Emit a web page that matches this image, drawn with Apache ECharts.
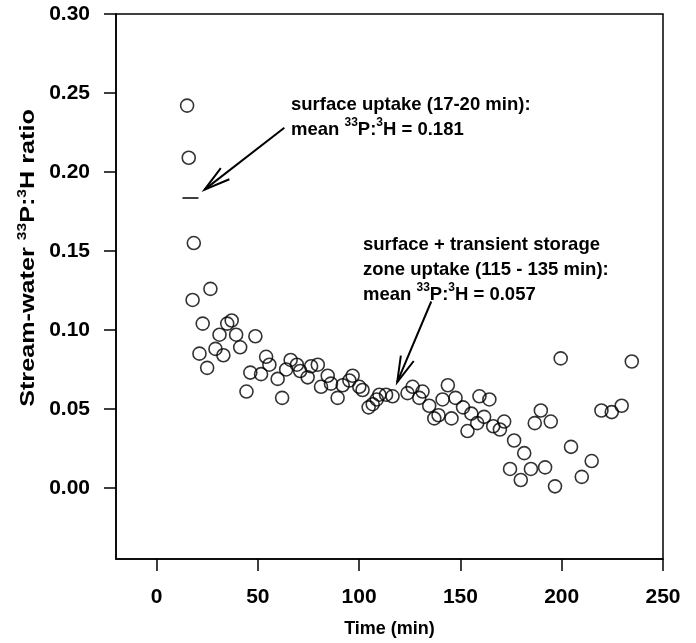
<!DOCTYPE html>
<html>
<head>
<meta charset="utf-8">
<script src="https://cdn.jsdelivr.net/npm/echarts@6/dist/echarts.min.js"></script>
<style>
  html, body { margin: 0; padding: 0; background: #fff; }
  #chart { width: 696px; height: 643px; }
</style>
</head>
<body>
<div id="chart"></div>
<script>
// sampling time (min)
const times = [
  15.1, 15.9, 17.8, 18.4, 21.2, 22.8, 25.0, 26.6, 29.1, 31.1,
  33.0, 34.9, 37.1, 39.3, 41.3, 44.4, 46.3, 48.8, 51.6, 54.1,
  55.7, 59.8, 62.0, 64.0, 66.2, 69.3, 70.9, 74.6, 76.3, 79.6,
  81.2, 84.5, 86.1, 89.4, 91.9, 95.2, 96.8, 100.1, 101.7, 104.7,
  106.7, 108.7, 110.0, 113.3, 116.5, 123.9, 126.4, 129.7, 131.3, 134.6,
  137.1, 139.2, 141.2, 143.8, 145.6, 147.6, 151.3, 153.5, 155.4, 158.3,
  159.4, 161.7, 164.3, 166.2, 169.5, 171.6, 174.5, 176.5, 179.8, 181.5,
  184.8, 186.7, 189.7, 191.8, 194.6, 196.7, 199.5, 204.6, 209.9, 214.8,
  219.6, 224.7, 229.6, 234.6
];
// stream-water 33P:3H ratio
const ratios = [
  0.242, 0.209, 0.119, 0.155, 0.085, 0.104, 0.076, 0.126, 0.088, 0.097,
  0.084, 0.104, 0.106, 0.097, 0.089, 0.061, 0.073, 0.096, 0.072, 0.083,
  0.078, 0.069, 0.057, 0.075, 0.081, 0.078, 0.074, 0.070, 0.077, 0.078,
  0.064, 0.071, 0.066, 0.057, 0.065, 0.068, 0.071, 0.064, 0.062, 0.051,
  0.053, 0.056, 0.059, 0.059, 0.058, 0.060, 0.064, 0.057, 0.061, 0.052,
  0.044, 0.046, 0.056, 0.065, 0.044, 0.057, 0.051, 0.036, 0.047, 0.041,
  0.058, 0.045, 0.056, 0.039, 0.037, 0.042, 0.012, 0.030, 0.005, 0.022,
  0.012, 0.041, 0.049, 0.013, 0.042, 0.001, 0.082, 0.026, 0.007, 0.017,
  0.049, 0.048, 0.052, 0.080
];
const xTicks = [0, 50, 100, 150, 200, 250];
const yTicks = [0, 0.05, 0.10, 0.15, 0.20, 0.25, 0.30];

// mean surface uptake (17-20 min), drawn as a short bar
const meanTimes = [12.8, 20.7];
const meanValue = 0.1836;
// arrows: [tail, tip] in data units
const arrowSurface = [[63.1, 0.228], [23.7, 0.1888]];
const arrowStorage = [[135.6, 0.118], [118.8, 0.0669]];

const font = 'Liberation Sans, Arial, Helvetica, sans-serif';
const black = '#000';

const chart = echarts.init(document.getElementById('chart'));

const points = times.map((t, i) => [t, ratios[i]]);

const option = {
  animation: false,
  backgroundColor: '#fff',
  grid: {
    left: 116, right: 33, top: 14, bottom: 83,
    show: true, borderColor: black, borderWidth: 1.5
  },
  xAxis: {
    type: 'value', min: -20, max: 250,
    axisLine: { show: true, onZero: false, lineStyle: { color: black, width: 1.5 } },
    axisTick: { show: true, customValues: xTicks, length: 12, lineStyle: { color: black, width: 1.5 } },
    axisLabel: { customValues: xTicks, margin: 28, color: black, fontSize: 21, fontWeight: 'bold', fontFamily: font },
    splitLine: { show: false },
    name: 'Time (min)', nameLocation: 'middle', nameGap: 61,
    nameTextStyle: { color: black, fontSize: 18, fontWeight: 'bold', fontFamily: font }
  },
  yAxis: {
    type: 'value', min: -0.045, max: 0.30,
    axisLine: { show: true, onZero: false, lineStyle: { color: black, width: 1.5 } },
    axisTick: { show: true, customValues: yTicks, length: 12, lineStyle: { color: black, width: 1.5 } },
    axisLabel: {
      customValues: yTicks, margin: 26, color: black, fontSize: 21, fontWeight: 'bold', fontFamily: font,
      formatter: v => v.toFixed(2)
    },
    splitLine: { show: false }
  },
  series: [
    {
      type: 'scatter',
      data: points,
      symbol: 'circle',
      symbolSize: 13,
      itemStyle: { color: 'rgba(0,0,0,0)', borderColor: black, borderWidth: 1.6 }
    },
    {
      type: 'line',
      data: meanTimes.map(t => [t, meanValue]),
      symbol: 'none',
      lineStyle: { color: black, width: 1.5 }
    }
  ]
};
chart.setOption(option);

function arrow(pair) {
  const p0 = chart.convertToPixel({ gridIndex: 0 }, pair[0]);
  const p1 = chart.convertToPixel({ gridIndex: 0 }, pair[1]);
  const dx = p0[0] - p1[0], dy = p0[1] - p1[1];
  const len = Math.hypot(dx, dy);
  const ux = dx / len, uy = dy / len;
  const hl = 26, hw = 7;
  const b1 = [p1[0] + ux * hl - uy * hw, p1[1] + uy * hl + ux * hw];
  const b2 = [p1[0] + ux * hl + uy * hw, p1[1] + uy * hl - ux * hw];
  return [
    { type: 'line', shape: { x1: p0[0], y1: p0[1], x2: p1[0], y2: p1[1] }, style: { stroke: black, lineWidth: 2 } },
    { type: 'polyline', shape: { points: [b1, p1, b2] }, style: { stroke: black, lineWidth: 2, fill: null } }
  ];
}

const richNote = {
  t: { fill: black, fontSize: 18.5, fontWeight: 'bold', fontFamily: font, lineHeight: 25 },
  s: { fill: black, fontSize: 12, fontWeight: 'bold', fontFamily: font, lineHeight: 12, verticalAlign: 'top' }
};
const richTitle = {
  t: { fill: black, fontSize: 21, fontWeight: 'bold', fontFamily: font, lineHeight: 24 },
  s: { fill: black, fontSize: 13, fontWeight: 'bold', fontFamily: font, lineHeight: 12, verticalAlign: 'top' }
};

chart.setOption({
  graphic: [
    ...arrow(arrowSurface),
    ...arrow(arrowStorage),
    {
      type: 'text', left: 291, top: 95,
      style: {
        text: '{t|surface uptake (17-20 min):}\n{t|mean }{s|33}{t|P:}{s|3}{t|H = 0.181}',
        rich: richNote
      }
    },
    {
      type: 'text', left: 363, top: 235,
      style: {
        text: '{t|surface + transient storage}\n{t|zone uptake (115 - 135 min):}\n{t|mean }{s|33}{t|P:}{s|3}{t|H = 0.057}',
        rich: richNote
      }
    },
    {
      // y-axis title, rotated
      type: 'text', x: 28, y: 258, rotation: Math.PI / 2, scaleX: 1.2,
      style: {
        text: '{t|Stream-water }{s|33}{t|P:}{s|3}{t|H ratio}',
        rich: richTitle, align: 'center', verticalAlign: 'middle'
      }
    }
  ]
});
</script>
</body>
</html>
